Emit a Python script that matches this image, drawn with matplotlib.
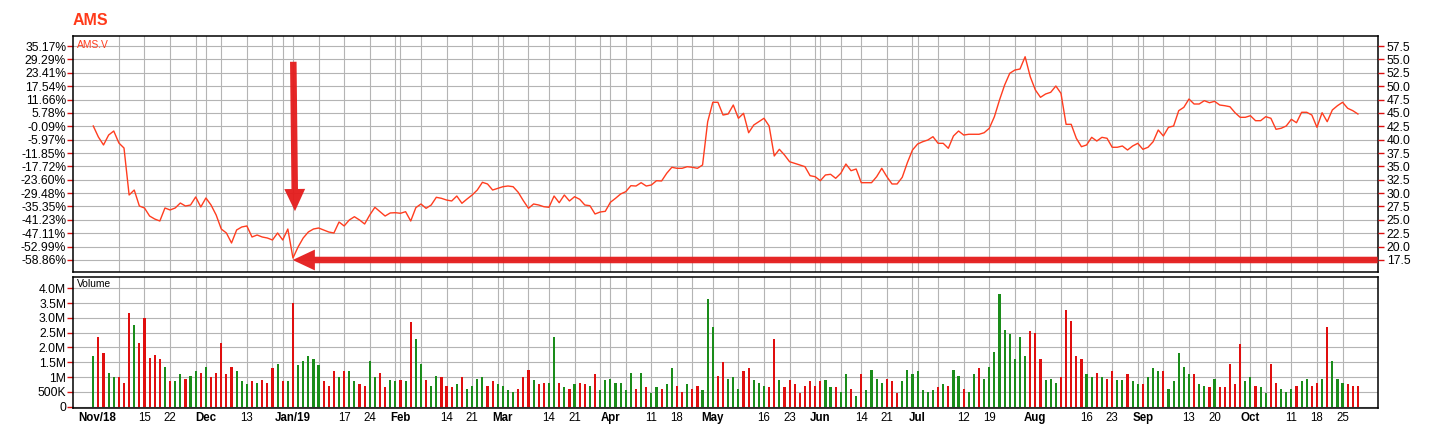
import matplotlib
matplotlib.use("Agg")
import matplotlib.pyplot as plt
from matplotlib.patches import FancyArrowPatch

plt.rcParams['font.family'] = ['Liberation Sans', 'DejaVu Sans']

# daily closes (AMS.V), Nov/18 .. Oct/19
closes = [
    42.55, 40.49, 39.00, 40.86, 41.61, 39.37, 38.43, 29.65, 30.58, 27.59,
    27.22, 25.72, 25.16, 24.79, 27.22, 26.85, 27.22, 28.15, 27.59, 27.78,
    29.28, 27.41, 29.09, 27.78, 25.91, 23.29, 22.55, 20.68, 23.11, 23.67,
    23.86, 21.80, 22.17, 21.80, 21.61, 21.24, 22.55, 21.24, 23.29, 17.87,
    19.93, 21.61, 22.73, 23.29, 23.48, 23.11, 22.73, 22.55, 24.60, 23.86,
    24.98, 25.59, 24.98, 24.23, 25.91, 27.35, 26.53, 25.72, 26.29, 26.34,
    26.23, 26.53, 24.79, 27.28, 27.97, 27.16, 27.78, 29.22, 29.03, 28.71,
    28.53, 29.46, 28.10, 28.90, 29.65, 30.58, 32.02, 31.71, 30.58, 30.90,
    31.20, 31.33, 31.20, 30.15, 28.58, 27.16, 27.97, 27.78, 27.46, 27.35,
    29.46, 28.21, 29.65, 28.53, 29.33, 28.85, 27.78, 27.65, 26.10, 26.47,
    26.60, 28.29, 29.03, 29.84, 30.27, 31.39, 31.33, 31.95, 31.33, 31.52,
    32.32, 32.27, 33.71, 34.83, 34.64, 34.64, 34.94, 34.83, 34.64, 35.26,
    43.35, 46.98, 46.98, 44.60, 44.79, 46.47, 43.99, 44.92, 41.29, 42.73,
    43.35, 43.99, 42.55, 36.94, 38.19, 37.13, 35.87, 35.57, 35.26, 34.94,
    33.26, 33.07, 32.32, 33.39, 33.52, 32.77, 33.71, 35.44, 34.19, 34.51,
    31.95, 31.95, 31.95, 33.07, 34.64, 33.07, 31.71, 31.71, 32.96, 35.69,
    38.06, 39.18, 39.61, 39.93, 40.55, 39.31, 39.31, 38.38, 40.68, 41.61,
    40.86, 41.00, 41.00, 41.00, 41.29, 42.12, 44.29, 47.41, 50.21, 52.40,
    53.01, 53.20, 55.50, 51.76, 49.28, 47.91, 48.53, 48.85, 50.02, 48.66,
    42.86, 42.86, 40.25, 38.68, 39.00, 40.43, 39.74, 40.43, 40.25, 38.57,
    38.57, 38.81, 38.06, 38.81, 39.31, 38.19, 38.57, 39.61, 41.80, 40.68,
    42.30, 42.55, 45.41, 46.04, 47.59, 46.66, 46.66, 47.28, 46.90, 47.16,
    46.47, 46.34, 46.15, 45.03, 44.17, 44.17, 44.47, 43.54, 43.54, 44.29,
    43.99, 41.93, 42.12, 42.55, 43.80, 43.16, 45.11, 45.11, 44.60, 42.30,
    45.03, 43.35, 45.54, 46.34, 46.98, 45.86, 45.41, 44.79,
]

# volume in millions
volume = [
    1.7, 2.35, 1.8, 1.15, 1.0, 1.0, 0.8, 3.15, 2.75, 2.15,
    3.0, 1.65, 1.75, 1.6, 1.35, 0.85, 0.85, 1.1, 0.95, 1.05,
    1.2, 1.15, 1.35, 1.0, 1.15, 2.15, 1.1, 1.35, 1.2, 0.85,
    0.75, 0.85, 0.8, 0.9, 0.8, 1.3, 1.45, 0.85, 0.85, 3.5,
    1.4, 1.55, 1.7, 1.6, 1.4, 0.85, 0.7, 1.2, 1.0, 1.2,
    1.2, 0.85, 0.75, 0.7, 1.55, 1.0, 1.15, 0.65, 0.9, 0.85,
    0.9, 0.85, 2.85, 2.3, 1.45, 0.9, 0.7, 1.05, 1.0, 0.7,
    0.65, 0.75, 1.0, 0.6, 0.7, 0.95, 1.0, 0.7, 0.85, 0.75,
    0.7, 0.55, 0.5, 0.6, 1.0, 1.25, 0.9, 0.75, 0.8, 0.8,
    2.35, 0.8, 0.65, 0.6, 0.75, 0.8, 0.75, 0.7, 1.1, 0.55,
    0.9, 0.95, 0.8, 0.8, 0.55, 1.15, 0.6, 1.15, 0.65, 0.45,
    0.65, 0.6, 0.75, 1.3, 0.7, 0.5, 0.75, 0.6, 0.7, 0.55,
    3.65, 2.7, 1.05, 1.5, 0.95, 1.0, 0.6, 1.2, 1.3, 0.9,
    0.8, 0.7, 0.65, 2.3, 0.9, 0.65, 0.9, 0.75, 0.45, 0.7,
    0.85, 0.7, 0.85, 0.9, 0.65, 0.65, 0.5, 1.1, 0.6, 0.35,
    1.1, 0.55, 1.25, 0.95, 0.8, 0.95, 0.85, 0.45, 0.85, 1.25,
    1.1, 1.2, 0.55, 0.5, 0.55, 0.65, 0.75, 0.7, 1.25, 1.05,
    0.6, 0.5, 1.1, 1.3, 0.95, 1.35, 1.85, 3.8, 2.6, 2.45,
    1.6, 2.35, 1.7, 2.55, 2.5, 1.6, 0.9, 0.95, 0.8, 1.0,
    3.25, 2.9, 1.7, 1.6, 1.1, 1.0, 1.15, 1.0, 0.95, 1.2,
    0.9, 0.9, 1.1, 0.85, 0.75, 0.75, 1.0, 1.3, 1.2, 1.2,
    0.6, 0.85, 1.8, 1.35, 1.1, 1.1, 0.75, 0.7, 0.65, 0.95,
    0.65, 0.65, 1.45, 0.75, 2.1, 0.85, 1.0, 0.7, 0.65, 0.45,
    1.45, 0.8, 0.6, 0.5, 0.6, 0.7, 0.85, 0.95, 0.7, 0.8,
    0.95, 2.7, 1.55, 0.95, 0.8, 0.75, 0.7, 0.7,
]

# up (G) / down (R) day for each volume bar
vol_dir = ("GRRGGRRRGR" "RRRRGRGGRG" "GRGRRRRRGG" "GRGRRRGRGR" "GGGGGRRRGR"
           "GGRRGGRRGG" "RGRGGRGGRR" "RGRGGGGRRG" "GGGRRRGRRG" "GRGRGRRGRG"
           "GGGGGGRGRG" "GRGGRRGRRG" "GGRRGGGRRG" "GGRRGRRRRR" "RRRGGRGGRG"
           "RGGGGRRRGG" "GGGGGRGRGG" "RGGRGGGGGG" "GGGRRRGGGR" "RRRRGGRGRR"
           "GGRGGRGGGR" "GGGGGRGGRG" "RRRRRGGRGG" "RRGGGRGGRR" "GRGGGRRR")

# weekly / month-start grid days (trading-day index)
grid_days = [5, 10, 15, 20, 22, 25, 30, 35, 37, 39, 44, 49, 54, 59, 60, 64, 69, 74,
             79, 80, 85, 89, 94, 99, 101, 104, 109, 114, 117, 121, 126, 131, 136,
             141, 142, 146, 150, 155, 160, 161, 165, 170, 175, 180, 184, 189, 194,
             199, 204, 205, 209, 214, 219, 224, 226, 229, 234, 239, 244]

xtick_pos = [0.8, 10, 15, 22, 30, 39, 49, 54, 60, 69, 74, 80, 89, 94, 101, 109, 114,
             121, 131, 136, 142, 150, 155, 161, 170, 175, 184, 194, 199, 205, 214,
             219, 226, 234, 239, 244]
xtick_lab = ['Nov/18', '15', '22', 'Dec', '13', 'Jan/19', '17', '24', 'Feb', '14', '21',
             'Mar', '14', '21', 'Apr', '11', '18', 'May', '16', '23', 'Jun', '14', '21',
             'Jul', '12', '19', 'Aug', '16', '23', 'Sep', '13', '20', 'Oct', '11', '18', '25']

price_ticks = [17.5, 20.0, 22.5, 25.0, 27.5, 30.0, 32.5, 35.0, 37.5, 40.0, 42.5,
               45.0, 47.5, 50.0, 52.5, 55.0, 57.5]
pct_labels = ['-58.86%', '-52.99%', '-47.11%', '-41.23%', '-35.35%', '-29.48%',
              '-23.60%', '-17.72%', '-11.85%', '-5.97%', '-0.09%', '5.78%', '11.66%',
              '17.54%', '23.41%', '29.29%', '35.17%']
vol_ticks = [0, 0.5, 1, 1.5, 2, 2.5, 3, 3.5, 4]
vol_labels = ['0', '500K', '1M', '1.5M', '2.0M', '2.5M', '3.0M', '3.5M', '4.0M']

LINE = '#ff3d1f'
GRID = '#b4b4b4'
GREEN = '#1a8c1a'
RED = '#e00e0e'
FS = 8.7

W, H = 1443, 426
fig = plt.figure(figsize=(W / 100, H / 100), dpi=100)
L, R = 73 / W, 1378.3 / W
ax = fig.add_axes([L, 1 - 271.5 / H, R - L, (271.5 - 36) / H])
axv = fig.add_axes([L, 1 - 407.5 / H, R - L, (407.5 - 277.3) / H])

days = list(range(len(closes)))
xlim = (-3.96, 250.98)

for a in (ax, axv):
    for d in grid_days:
        a.axvline(d, color=GRID, lw=0.8, zorder=0)
    a.set_xlim(*xlim)
    for s in a.spines.values():
        s.set_color('black')
        s.set_linewidth(1.1)

# price panel
ax.plot(days, closes, color=LINE, lw=1.0, zorder=3)
ax.set_ylim(15.35, 59.37)
ax.set_yticks(price_ticks)
ax.set_yticklabels(pct_labels)
ax.grid(axis='y', color=GRID, lw=0.8)
ax.set_axisbelow(True)
ax.set_xticks([])
ax.tick_params(axis='y', colors='#dd1111', labelcolor='black', labelsize=FS,
               length=4, width=1, pad=1)
axr = ax.twinx()
axr.set_ylim(ax.get_ylim())
axr.set_yticks(price_ticks)
axr.set_yticklabels([f'{t:.1f}' for t in price_ticks])
axr.tick_params(axis='y', colors='#dd1111', labelcolor='black', labelsize=FS,
                length=4, width=1, pad=2)
for s in axr.spines.values():
    s.set_visible(False)

ax.text(0.003, 0.985, 'AMS.V', transform=ax.transAxes, color=LINE, fontsize=7.4,
        va='top', ha='left')
fig.text(73 / W, 1 - 25 / H, 'AMS', color='#ff3a1a', fontsize=11.5,
         fontweight='bold', va='baseline', ha='left')

# hand drawn arrows
for tail, tip in [((39.06, 55.07), (39.4, 26.1)), ((251.4, 17.5), (38.4, 17.5))]:
    arr = FancyArrowPatch(tail, tip, transform=ax.transData, clip_on=False,
                          arrowstyle='simple,head_width=1.5,head_length=1.6,tail_width=0.47',
                          mutation_scale=10, color='#e41b1b', alpha=0.95, lw=0, zorder=5)
    ax.add_patch(arr)

# volume panel
cols = [GREEN if c == 'G' else RED for c in vol_dir]
axv.bar(days, volume, width=0.42, color=cols, zorder=3)
axv.set_ylim(-0.03, 4.37)
axv.set_yticks(vol_ticks)
axv.set_yticklabels(vol_labels)
axv.grid(axis='y', color=GRID, lw=0.8)
axv.set_axisbelow(True)
axv.tick_params(axis='y', colors='#dd1111', labelcolor='black', labelsize=FS,
                length=4, width=1, pad=1)
axv.set_xticks(xtick_pos)
axv.set_xticklabels(xtick_lab)
axv.tick_params(axis='x', length=0, labelsize=8.3, pad=3)
for t in axv.get_xticklabels():
    if not t.get_text().isdigit():
        t.set_fontweight('bold')
axv.text(0.003, 0.985, 'Volume', transform=axv.transAxes, color='black',
         fontsize=7.4, va='top', ha='left')

fig.savefig('out.png', dpi=100)
